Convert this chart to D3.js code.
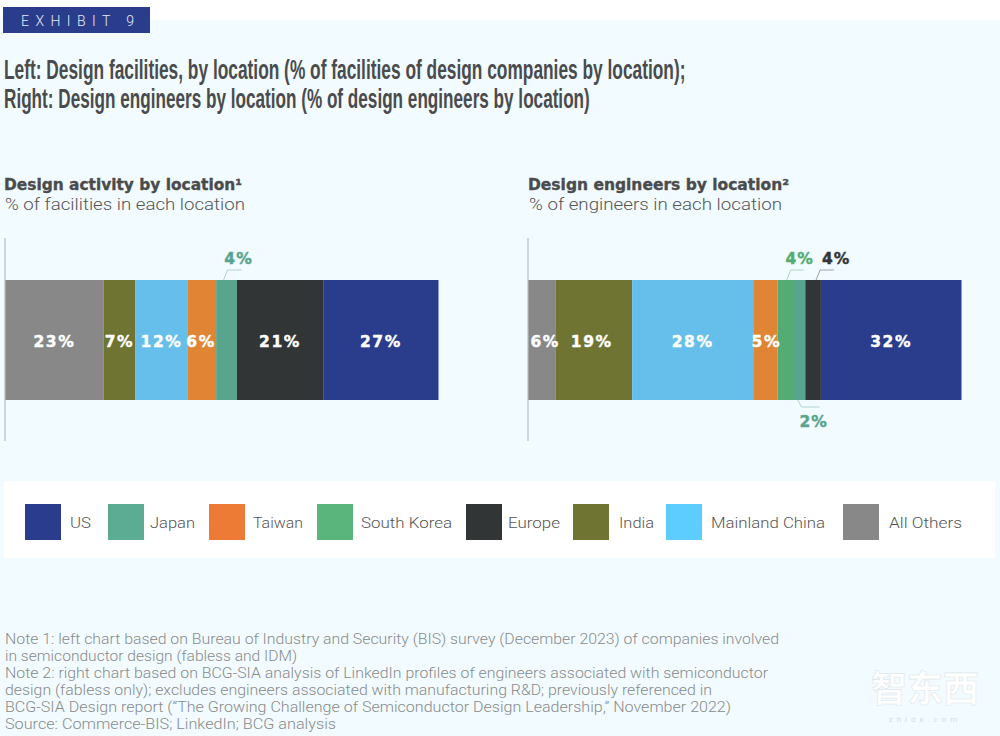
<!DOCTYPE html>
<html><head><meta charset="utf-8">
<script src="https://cdn.jsdelivr.net/npm/d3@7/dist/d3.min.js"></script>
<style>html,body{margin:0;padding:0;background:#fff}svg{display:block}</style>
</head><body><svg id="c" width="1000" height="736"></svg>
<script>
// ---- data ----
const categories = ["All Others","India","Mainland China","Taiwan","South Korea","Japan","Europe","US"];
const leftValues  = [22.8,7.2,12.2,6.5,0,4.8,19.9,26.6];
const leftLabels  = ["23%","7%","12%","6%","","4%","21%","27%"];
const rightValues = [6.3,17.7,27.9,5.6,3.8,2.6,3.6,32.4];
const rightLabels = ["6%","19%","28%","5%","4%","2%","4%","32%"];
const legendOrder = ["US","Japan","Taiwan","South Korea","Europe","India","Mainland China","All Others"];
const barColours = ["#888888","#707432","#66bfea","#df8534","#55ab74","#59a48d","#313535","#2a3c8c"];
const legendColours = ["#2a3c8c","#5cab93","#ed7a35","#5ab57d","#313535","#707432","#5ccdfd","#888888"];
const noteLines = [
 "Note 1: left chart based on Bureau of Industry and Security (BIS) survey (December 2023) of companies involved",
 "in semiconductor design (fabless and IDM)",
 "Note 2: right chart based on BCG-SIA analysis of LinkedIn profiles of engineers associated with semiconductor",
 "design (fabless only); excludes engineers associated with manufacturing R&D; previously referenced in",
 "BCG-SIA Design report (“The Growing Challenge of Semiconductor Design Leadership,” November 2022)",
 "Source: Commerce-BIS; LinkedIn; BCG analysis"];
const titleLines = ["Left: Design facilities, by location (% of facilities of design companies by location);",
 "Right: Design engineers by location (% of design engineers by location)"];

// ---- layout ----
const svg = d3.select("#c");
const sans = "'Liberation Sans',Arial,sans-serif", light = "Roboto,'Liberation Sans',sans-serif", heavy="'DejaVu Sans',sans-serif";
function txt(s,x,y,o={}){
  const t = svg.append("text").attr("x",x).attr("y",y).text(s)
    .attr("font-family",o.font||sans).attr("font-size",o.size||14)
    .attr("font-weight",o.weight||400).attr("fill",o.fill||"#666")
    .attr("text-anchor",o.anchor||"start");
  if(o.w) t.attr("textLength",o.w).attr("lengthAdjust",o.adj||"spacingAndGlyphs");
  if(o.ls) t.attr("letter-spacing",o.ls);
  if(o.stroke) t.attr("stroke",o.fill).attr("stroke-width",o.stroke);
  return t;
}
function squeezed(s,x,y,width,o){
  const t = txt(s,0,0,o);
  const k = width / t.node().getComputedTextLength();
  t.attr("transform",`translate(${x},${y}) scale(${k},1)`);
}
svg.append("rect").attr("x",0).attr("y",20).attr("width",1000).attr("height",716).attr("fill","#f2fbff");
svg.append("rect").attr("x",3).attr("y",7).attr("width",147).attr("height",26).attr("fill","#2a3c8c");
txt("EXHIBIT 9",21,26,{font:light,size:14,weight:300,fill:"#e6ebf7",w:113,adj:"spacing"});

const narrow="'Liberation Sans Narrow','Liberation Sans',sans-serif";
squeezed(titleLines[0],4,79,682,{font:narrow,size:27,weight:700,fill:"#4a4b4c"});
squeezed(titleLines[1],4,108,586,{font:narrow,size:27,weight:700,fill:"#4a4b4c"});

txt("Design activity by location¹",4,190,{font:heavy,size:15,weight:700,fill:"#4a4b4c",stroke:.35,w:238});
txt("% of facilities in each location",5,210,{font:light,size:16.5,weight:300,fill:"#555",w:240});
txt("Design engineers by location²",528,190,{font:heavy,size:15,weight:700,fill:"#4a4b4c",stroke:.35,w:261});
txt("% of engineers in each location",529,210,{font:light,size:16.5,weight:300,fill:"#555",w:253});

const barTop = 280, barBottom = 400;
function chart(values,labels,x0,dx,outside){
  const x = d3.scaleLinear().domain([0,d3.sum(values)]).range([x0,x0+433.5]);
  let acc=0;
  const segs = values.map((v,i)=>{const s={i,a:acc,b:acc+v,label:labels[i]};acc+=v;return s;});
  svg.append("g").selectAll("rect").data(segs.filter(s=>s.b>s.a)).join("rect")
    .attr("x",s=>x(s.a)).attr("width",s=>x(s.b)-x(s.a))
    .attr("y",barTop).attr("height",barBottom-barTop)
    .attr("fill",s=>barColours[s.i]);
  svg.append("line").attr("x1",x0).attr("x2",x0).attr("y1",238).attr("y2",441)
    .attr("stroke","#b9bcbd").attr("stroke-width",1.2);
  segs.filter(s=>s.label).forEach(s=>{
    const cx=(x(s.a)+x(s.b))/2, o=outside[s.i];
    if(o){
      const c=barColours[s.i], yEdge=o.below?barBottom:barTop, yk=o.below?407:270;
      svg.append("path").attr("fill","none").attr("stroke",c).attr("stroke-opacity",.55).attr("stroke-width",.8)
        .attr("d",d3.line()([[cx+o.lx,yEdge],[cx+o.lx+4,yk],[cx+o.lx+o.len,yk]]));
      txt(s.label,cx+o.tx,o.below?427:264,{font:heavy,size:15.5,weight:700,fill:c,stroke:.4,anchor:"middle",ls:1});
    } else {
      txt(s.label,cx+(dx[s.i]||0),347,{font:heavy,size:15.5,weight:700,fill:"#fff",stroke:.4,anchor:"middle",ls:1.6});
    }
  });
}
chart(leftValues,leftLabels,5,{3:-1},{5:{lx:-3,len:18,tx:12}});
chart(rightValues,rightLabels,528,{0:3.5,1:-2,3:1},{
  4:{lx:1,len:17,tx:14},
  6:{lx:3,len:18,tx:23},
  5:{lx:-2,len:22,tx:14,below:true}});

// legend
svg.append("rect").attr("x",4).attr("y",481).attr("width",991).attr("height",77).attr("fill","#fff");
const swatchX=[25,108,209,317,466,573,666,843], labelX=[70,150,253,361,508,619,711,889], labelW=[21,45,50,91,52,35,114,73];
legendOrder.forEach((n,i)=>{
  svg.append("rect").attr("x",swatchX[i]).attr("y",504).attr("width",36).attr("height",36).attr("fill",legendColours[i]);
  txt(n,labelX[i],528,{font:light,size:15.5,weight:300,fill:"#555",w:labelW[i]});
});

// notes
const noteW=[774,292,763,707,726,331], noteY=[644,661,678,695,712,729];
noteLines.forEach((l,i)=>txt(l,5,noteY[i],{font:light,size:15,weight:300,fill:"#888b8c",w:noteW[i]}));

// watermark
txt("智东西",925,702,{font:"'Noto Sans CJK SC',sans-serif",size:36,weight:700,fill:"#ffffff",anchor:"middle",stroke:.6}).attr("stroke","#dfe7eb");
txt("zhidx.com",925,722,{font:light,size:8,fill:"#d5dde1",anchor:"middle",ls:4});
</script></body></html>
